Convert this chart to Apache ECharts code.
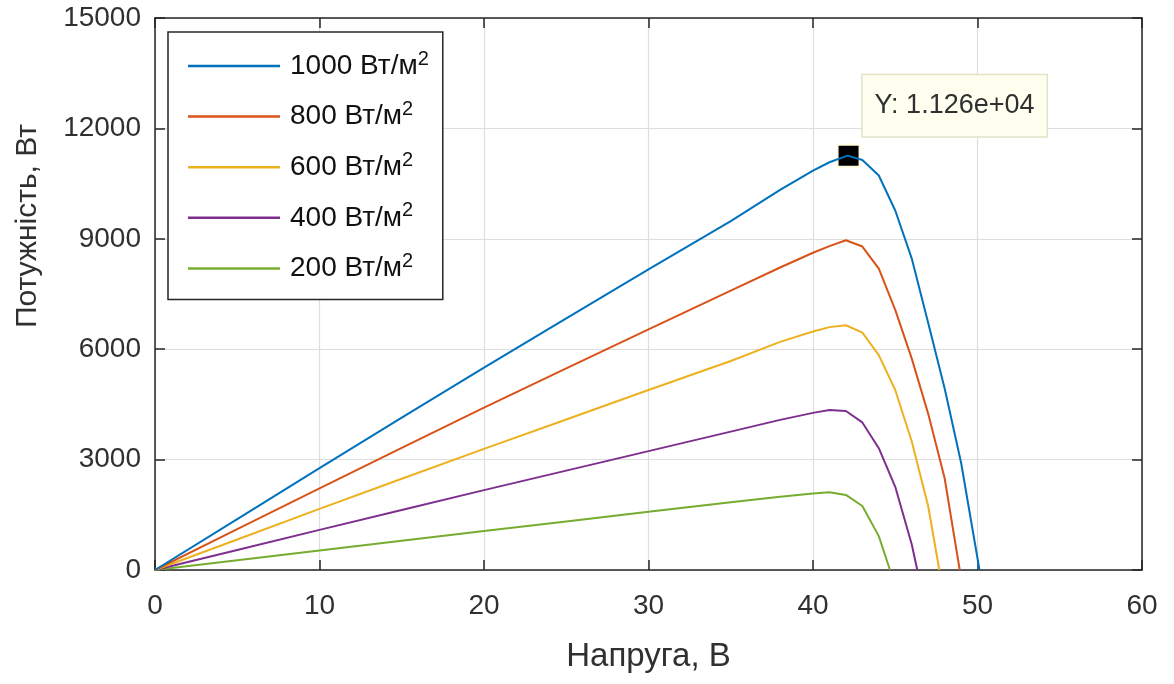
<!DOCTYPE html>
<html>
<head>
<meta charset="utf-8">
<script src="https://cdn.jsdelivr.net/npm/echarts@6/dist/echarts.min.js"></script>
<style>html,body{margin:0;padding:0;background:#fff}#c{width:1174px;height:684px}</style>
</head>
<body>
<div id="c"></div>
<script>
// ---- data ----
const seriesNames = ['1000 Вт/м²', '800 Вт/м²', '600 Вт/м²', '400 Вт/м²', '200 Вт/м²'];
const v1000 = [0, 5, 10, 15, 20, 25, 30, 35, 38, 40, 41, 42.1, 43, 44, 45, 46, 47, 48, 49, 50, 50.12];
const p1000 = [0, 1385, 2770, 4140, 5500, 6840, 8170, 9480, 10330, 10850, 11080, 11260, 11140, 10720, 9770, 8470, 6720, 4940, 2920, 320, 0];
const v800 = [0, 5, 10, 15, 20, 25, 30, 35, 38, 40, 41, 42, 43, 44, 45, 46, 47, 48, 48.92];
const p800 = [0, 1110, 2220, 3320, 4410, 5480, 6540, 7590, 8220, 8620, 8800, 8960, 8790, 8190, 7070, 5750, 4250, 2500, 0];
const v600 = [0, 5, 10, 15, 20, 25, 30, 35, 38, 40, 41, 42, 43, 44, 45, 46, 47, 47.68];
const p600 = [0, 830, 1660, 2480, 3290, 4090, 4890, 5680, 6200, 6480, 6600, 6650, 6450, 5840, 4890, 3500, 1740, 0];
const v400 = [0, 5, 10, 15, 20, 25, 30, 35, 38, 40, 41, 42, 43, 44, 45, 46, 46.34];
const p400 = [0, 545, 1090, 1630, 2170, 2700, 3230, 3760, 4080, 4270, 4350, 4320, 4010, 3310, 2260, 700, 0];
const v200 = [0, 5, 10, 15, 20, 25, 30, 35, 38, 40, 41, 42, 43, 44, 44.68];
const p200 = [0, 265, 530, 795, 1060, 1320, 1580, 1840, 1990, 2080, 2110, 2040, 1740, 920, 0];
const xTicks = [0, 10, 20, 30, 40, 50, 60];
const yTicks = [0, 3000, 6000, 9000, 12000, 15000];
const dataTip = { x: 42.1, y: 11260, text: 'Y: 1.126e+04' };
const xName = 'Напруга, В';
const yName = 'Потужність, Вт';

const colors = ['#0072BD', '#D95319', '#EDB120', '#7E2F8E', '#77AC30'];
const vs = [v1000, v800, v600, v400, v200];
const ps = [p1000, p800, p600, p400, p200];
const FONT = '"Liberation Sans", Arial, sans-serif';
const AX = '#262626';
const TXT = '#303030';

const series = seriesNames.map((n, i) => ({
  name: n,
  type: 'line',
  data: vs[i].map((v, j) => [v, ps[i][j]]),
  showSymbol: false,
  symbol: 'none',
  lineStyle: { width: 2, color: colors[i] },
  itemStyle: { color: colors[i] },
  z: 5 - i + 2,
  animation: false
}));
series[0].markPoint = {
  symbol: 'rect',
  symbolSize: 22,
  symbolOffset: [1, 0],
  itemStyle: { color: '#000', borderColor: '#fffbe0', borderWidth: 2 },
  data: [{ coord: [dataTip.x, dataTip.y] }],
  label: {
    show: true,
    formatter: dataTip.text,
    position: 'inside',
    offset: [106, -50],
    fontFamily: FONT,
    fontSize: 27,
    color: TXT,
    backgroundColor: '#fffff0',
    borderColor: '#e3e3c8',
    borderWidth: 1.5,
    padding: [17, 12, 17, 12],
    align: 'center',
    verticalAlign: 'middle'
  },
  animation: false
};

const tickLabels = (arr) => (v) => (arr.indexOf(v) >= 0 ? String(v) : '');

const option = {
  animation: false,
  backgroundColor: '#fff',
  grid: { left: 155, right: 32, top: 18, bottom: 114, show: false },
  legend: {
    orient: 'vertical',
    left: 168,
    top: 32,
    data: seriesNames,
    icon: 'rect',
    itemWidth: 92,
    itemHeight: 2.5,
    itemGap: 19.6,
    padding: [17, 14, 17, 20],
    backgroundColor: '#fff',
    borderColor: AX,
    borderWidth: 1.5,
    borderRadius: 0,
    formatter: (n) => '{n|' + n.replace('²', '') + '}{s|2}',
    textStyle: {
      rich: {
        n: { fontFamily: FONT, fontSize: 28, color: '#111', lineHeight: 34, padding: [0, 0, 0, 5] },
        s: { fontFamily: FONT, fontSize: 20, color: '#111', lineHeight: 12, verticalAlign: 'top' }
      }
    }
  },
  xAxis: [{
    type: 'value', min: 0, max: 60, interval: 10,
    position: 'bottom',
    name: xName, nameLocation: 'middle', nameGap: 70,
    nameTextStyle: { fontFamily: FONT, fontSize: 33, color: TXT },
    axisLine: { show: true, onZero: false, lineStyle: { color: AX, width: 1.5 } },
    axisTick: { show: true, inside: true, length: 10, lineStyle: { color: AX, width: 1.5 } },
    axisLabel: { fontFamily: FONT, fontSize: 28, color: TXT, margin: 22, formatter: tickLabels(xTicks) },
    splitLine: { show: true, lineStyle: { color: '#dedede', width: 1.2 } }
  }, {
    type: 'value', min: 0, max: 60, interval: 10,
    position: 'top',
    axisLine: { show: true, onZero: false, lineStyle: { color: AX, width: 1.5 } },
    axisTick: { show: true, inside: true, length: 10, lineStyle: { color: AX, width: 1.5 } },
    axisLabel: { show: false },
    splitLine: { show: false }
  }],
  yAxis: [{
    type: 'value', min: 0, max: 15000, interval: 3000,
    position: 'left',
    axisLine: { show: true, onZero: false, lineStyle: { color: AX, width: 1.5 } },
    axisTick: { show: true, inside: true, length: 10, lineStyle: { color: AX, width: 1.5 } },
    axisLabel: { fontFamily: FONT, fontSize: 28, color: TXT, margin: 14, formatter: tickLabels(yTicks) },
    splitLine: { show: true, lineStyle: { color: '#dedede', width: 1.2 } }
  }, {
    type: 'value', min: 0, max: 15000, interval: 3000,
    position: 'right',
    axisLine: { show: true, onZero: false, lineStyle: { color: AX, width: 1.5 } },
    axisTick: { show: true, inside: true, length: 10, lineStyle: { color: AX, width: 1.5 } },
    axisLabel: { show: false },
    splitLine: { show: false }
  }],
  graphic: [{
    type: 'text',
    x: 28, y: 226,
    rotation: Math.PI / 2,
    style: { text: yName, fontFamily: FONT, fontSize: 30, fill: TXT, align: 'center', verticalAlign: 'middle' }
  }],
  series: series
};

const chart = echarts.init(document.getElementById('c'), null, { renderer: 'canvas' });
chart.setOption(option);
</script>
</body>
</html>
